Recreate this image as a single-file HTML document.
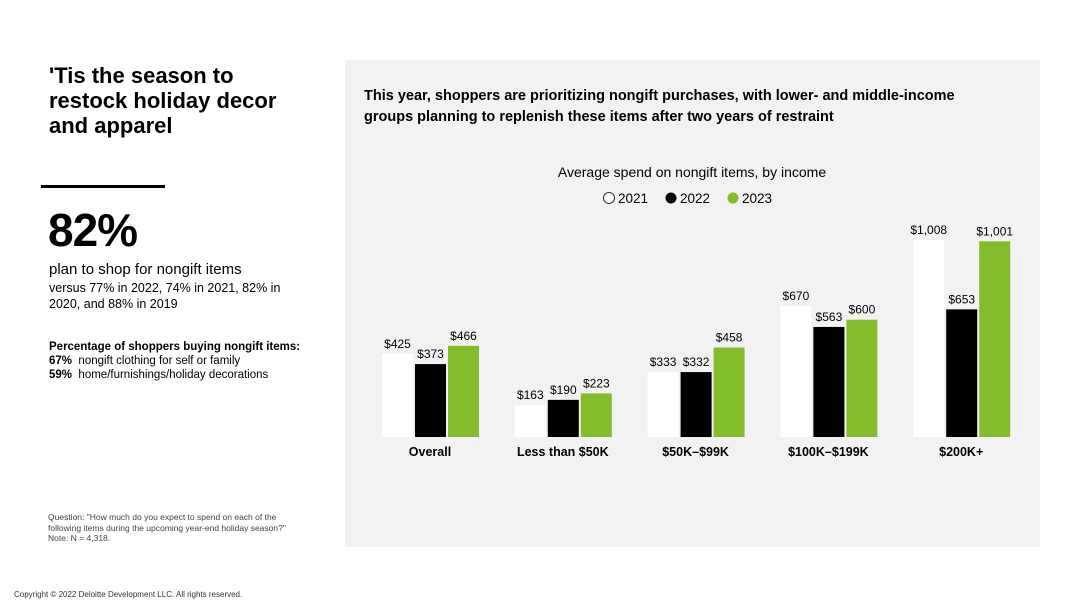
<!DOCTYPE html>
<html><head><meta charset="utf-8"><style>
body{margin:0;width:1080px;height:608px;background:#fff;font-family:"Liberation Sans",sans-serif;position:relative;overflow:hidden;color:#000}
.a{position:absolute}
</style></head><body>
<div class="a" style="left:49px;top:63px;font-size:22px;font-weight:bold;line-height:25px;width:290px">'Tis the season to<br>restock holiday decor<br>and apparel</div>
<div class="a" style="left:41px;top:185px;width:124px;height:3px;background:#000"></div>
<div class="a" style="left:48px;top:203px;font-size:46px;font-weight:bold;letter-spacing:-1px">82%</div>
<div class="a" style="left:49px;top:261px;font-size:15px">plan to shop for nongift items</div>
<div class="a" style="left:49px;top:280px;font-size:12.5px;line-height:16px;width:260px">versus 77% in 2022, 74% in 2021, 82% in 2020, and 88% in 2019</div>
<div class="a" style="left:49px;top:340px;font-size:11.5px;line-height:14px"><b>Percentage of shoppers buying nongift items:</b><br><b>67%</b>&nbsp; nongift clothing for self or family<br><b>59%</b>&nbsp; home/furnishings/holiday decorations</div>
<div class="a" style="left:48px;top:512px;font-size:8.5px;line-height:10.5px;color:#444">Question: "How much do you expect to spend on each of the<br>following items during the upcoming year-end holiday season?"<br>Note: N = 4,318.</div>
<div class="a" style="left:14px;top:590px;font-size:8px;color:#333">Copyright © 2022 Deloitte Development LLC. All rights reserved.</div>
<div class="a" style="left:345px;top:60px;width:695px;height:487px;background:#f2f2f2"></div>
<div class="a" style="left:364px;top:86px;font-size:14.5px;font-weight:bold;line-height:21px;width:670px">This year, shoppers are prioritizing nongift purchases, with lower- and middle-income<br>groups planning to replenish these items after two years of restraint</div>
<svg class="a" style="left:0;top:0" width="1080" height="608" id="chart"></svg>
<script>
const categories=["Overall","Less than $50K","$50K–$99K","$100K–$199K","$200K+"];
const v2021=[425,163,333,670,1008];
const v2022=[373,190,332,563,653];
const v2023=[466,223,458,600,1001];
const labels2021=["$425","$163","$333","$670","$1,008"];
const labels2022=["$373","$190","$332","$563","$653"];
const labels2023=["$466","$223","$458","$600","$1,001"];
const NS="http://www.w3.org/2000/svg";
const svg=document.getElementById('chart');
const base=437, k=0.1955;
const y=v=>base-v*k;
const gx=i=>382+i*132.8;
function mk(t,a){const e=document.createElementNS(NS,t);for(const n in a)e.setAttribute(n,a[n]);svg.appendChild(e);return e;}
const t1=mk('text',{x:692,y:177,'text-anchor':'middle','font-size':14,'font-family':'Liberation Sans'});t1.textContent="Average spend on nongift items, by income";


const leg=[["2021","#fff"],["2022","#000"],["2023","#84bd2b"]];
leg.forEach((l,i)=>{const x=609+i*62;
const c=mk('circle',{cx:x,cy:198,r:5.5,fill:l[1],stroke:i==0?'#000':'none','stroke-width':0.8});


const t=mk('text',{x:x+9,y:203,'font-size':13.5,'font-family':'Liberation Sans'});t.textContent=l[0];

});
const series=[[v2021,labels2021,"#fff"],[v2022,labels2022,"#000"],[v2023,labels2023,"#84bd2b"]];
categories.forEach((c,i)=>{
 series.forEach((s,j)=>{const x=gx(i)+j*33;const v=s[0][i];
  const r=mk('rect',{x:x,y:y(v),width:31,height:base-y(v),fill:s[2]});
  
  
  const t=mk('text',{x:x+15.5,y:y(v)-6,'text-anchor':'middle','font-size':12,'font-family':'Liberation Sans'});t.textContent=s[1][i];
  
  
 });
 const t=mk('text',{x:gx(i)+48,y:456,'text-anchor':'middle','font-size':12.5,'font-weight':'bold','font-family':'Liberation Sans'});t.textContent=c;
 
 
});
</script>
</body></html>
